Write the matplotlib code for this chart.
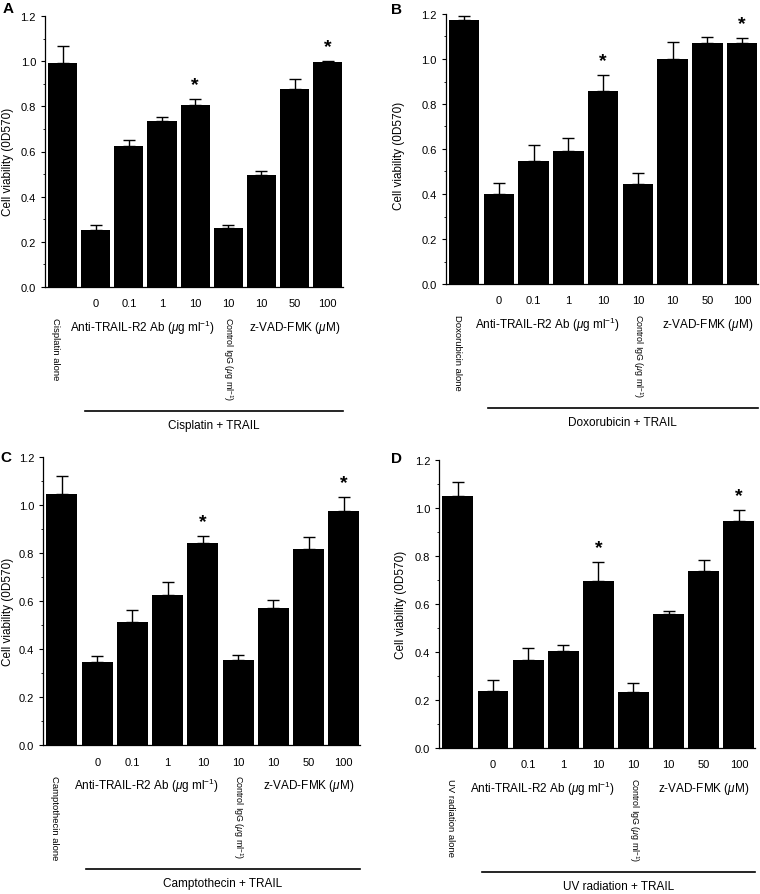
import matplotlib
matplotlib.use("Agg")
import matplotlib.pyplot as plt
from matplotlib.ticker import MultipleLocator, FormatStrFormatter
import matplotlib.transforms as mtransforms

plt.rcParams["font.family"] = ["Liberation Sans", "DejaVu Sans"]
plt.rcParams["mathtext.fontset"] = "custom"
plt.rcParams["mathtext.rm"] = "Liberation Sans"
plt.rcParams["mathtext.it"] = "Liberation Sans:italic"

dose_labels = ["0", "0.1", "1", "10", "10", "10", "50", "100"]

a_vals = [0.99, 0.254, 0.623, 0.735, 0.806, 0.26, 0.497, 0.877, 0.998]
a_err = [0.076, 0.021, 0.028, 0.018, 0.026, 0.016, 0.018, 0.043, 0.004]
b_vals = [1.175, 0.40, 0.548, 0.59, 0.859, 0.444, 1.0, 1.072, 1.072]
b_err = [0.018, 0.048, 0.071, 0.057, 0.071, 0.048, 0.077, 0.027, 0.023]
c_vals = [1.046, 0.348, 0.515, 0.627, 0.841, 0.355, 0.573, 0.818, 0.975]
c_err = [0.076, 0.024, 0.047, 0.054, 0.030, 0.021, 0.033, 0.050, 0.060]
d_vals = [1.051, 0.239, 0.367, 0.405, 0.695, 0.235, 0.558, 0.738, 0.944]
d_err = [0.058, 0.043, 0.048, 0.025, 0.078, 0.037, 0.014, 0.045, 0.046]

star_bars = [4, 8]

W, H = 760, 895

# letter, agent, values, errors, axes rect (px: left, top, right, bottom),
# ylabel anchor (px x of label's right edge, axes-frac y), letter position (px)
panels = [
    ("A", "Cisplatin", a_vals, a_err, (45, 17, 343, 288), (14, 0.465), (8, 9)),
    ("B", "Doxorubicin", b_vals, b_err, (445.7, 15, 758, 285), (405, 0.478), (397, 10)),
    ("C", "Camptothecin", c_vals, c_err, (43.3, 458, 360, 746.4), (14, 0.467), (6, 458)),
    ("D", "UV radiation", d_vals, d_err, (439.3, 460.7, 755, 749.2), (407, 0.50), (397, 459)),
]

fig = plt.figure(figsize=(W / 100, H / 100), dpi=100)

for letter, agent, vals, err, box, ylab, lpos in panels:
    l, t, r, b = box
    w_px, h_px = r - l, b - t
    ax = fig.add_axes([l / W, 1 - b / H, w_px / W, h_px / H])
    x = list(range(len(vals)))
    lower = [0] * len(vals)
    ax.bar(x, vals, width=0.88, color="black", zorder=2)
    ax.errorbar(x, vals, yerr=[lower, err], fmt="none", ecolor="black",
                elinewidth=1, capsize=4.5, capthick=1, zorder=1)

    ax.set_xlim(-0.53, 8.46)
    ax.set_ylim(0, 1.2)
    ax.yaxis.set_major_locator(MultipleLocator(0.2))
    ax.yaxis.set_minor_locator(MultipleLocator(0.1))
    ax.yaxis.set_major_formatter(FormatStrFormatter("%.1f"))
    ax.tick_params(axis="y", which="major", direction="out", length=3, width=0.8, labelsize=8)
    ax.tick_params(axis="y", which="minor", direction="out", length=1.5, width=0.6)
    ax.set_xticks(range(1, 9))
    ax.set_xticklabels(dose_labels)
    ax.tick_params(axis="x", length=0, pad=8, labelsize=8)
    for s in ["top", "right"]:
        ax.spines[s].set_visible(False)
    ax.spines["left"].set_linewidth(0.9)
    ax.spines["bottom"].set_linewidth(0.9)
    ax.set_ylabel("Cell viability (0D570)", fontsize=8.5)
    ax.yaxis.set_label_coords((ylab[0] - l) / w_px, ylab[1])

    trans = mtransforms.blended_transform_factory(ax.transData, ax.transAxes)

    # asterisks
    for i in star_bars:
        ax.text(i, vals[i] + err[i] + 0.025, "*", ha="center", va="bottom",
                fontsize=14, fontweight="bold")

    # group labels
    ax.text(2.4, -40 / h_px, r"Anti-TRAIL-R2 Ab ($\mu$g ml$^{-1}$)", transform=trans,
            ha="center", va="center", fontsize=8.5)
    ax.text(7.0, -40 / h_px, r"z-VAD-FMK ($\mu$M)", transform=trans,
            ha="center", va="center", fontsize=8.5)
    ax.text(-0.2, -30 / h_px, agent + " alone", transform=trans, rotation=-90,
            ha="center", va="top", fontsize=6.8)
    ax.text(5.0, -29 / h_px, r"Control IgG ($\mu$g ml$^{-1}$)", transform=trans,
            rotation=-90, ha="center", va="top", fontsize=6.4)

    # bracket line and combination label
    ax.plot([0.68, 8.46], [-124 / h_px, -124 / h_px], color="black", lw=1.2,
            transform=trans, clip_on=False)
    ax.text(4.57, -138 / h_px, agent + " + TRAIL", transform=trans,
            ha="center", va="center", fontsize=8.5)

    # panel letter
    fig.text(lpos[0] / W, 1 - lpos[1] / H, letter, ha="center", va="center",
             fontsize=11, fontweight="bold")

fig.savefig("out.png", dpi=100)
